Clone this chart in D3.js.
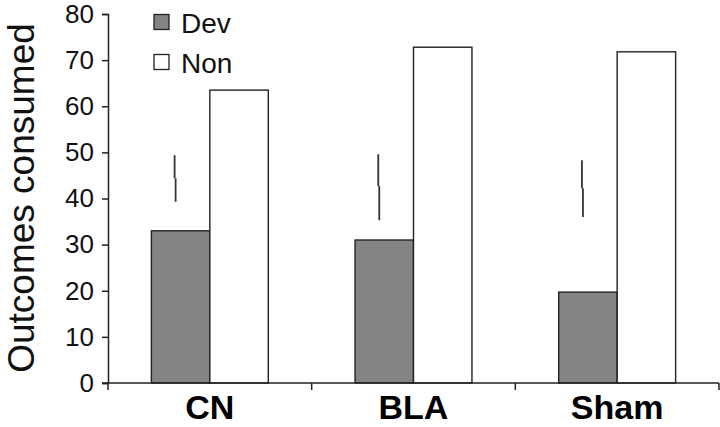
<!DOCTYPE html>
<html>
<head>
<meta charset="utf-8">
<script src="https://cdn.jsdelivr.net/npm/d3@7"></script>
<style>
  html, body { margin: 0; padding: 0; background: #fff; }
  svg { display: block; font-family: "Liberation Sans", Arial, Helvetica, sans-serif; }
</style>
</head>
<body>
<svg id="chart" width="720" height="427"></svg>
<script>
// ---- data ----
const categories = ["CN", "BLA", "Sham"];
const seriesNames = ["Dev", "Non"];
const devValues = [33.0, 31.0, 19.7];
const nonValues = [63.5, 72.8, 71.8];
const errLow  = [39.3, 35.3, 36.0];
const errMid  = [44.4, 42.7, 42.2];
const errHigh = [49.4, 49.6, 48.3];
const yTicks = [0, 10, 20, 30, 40, 50, 60, 70, 80];

(function () {
const svg = d3.select("#chart");
const mL = 108, mR = 719, mT = 14, mB = 383;
const axisColor = "#222";

const y = d3.scaleLinear().domain([0, 80]).range([mB, mT]);
const x = d3.scaleBand().domain(categories).range([mL, mR]);
const barW = x.bandwidth() * 0.287;

const rows = categories.map((c, i) => ({c, dev: devValues[i], non: nonValues[i],
  lo: errLow[i], mid: errMid[i], hi: errHigh[i]}));

// bars
const g = svg.append("g");
g.selectAll("rect.dev").data(rows).join("rect").attr("class", "dev")
  .attr("x", d => x(d.c) + x.bandwidth() / 2 - barW)
  .attr("y", d => y(d.dev))
  .attr("width", barW)
  .attr("height", d => y(0) - y(d.dev))
  .attr("fill", "#848484").attr("stroke", axisColor).attr("stroke-width", 1.4);
g.selectAll("rect.non").data(rows).join("rect").attr("class", "non")
  .attr("x", d => x(d.c) + x.bandwidth() / 2)
  .attr("y", d => y(d.non))
  .attr("width", barW)
  .attr("height", d => y(0) - y(d.non))
  .attr("fill", "#fff").attr("stroke", axisColor).attr("stroke-width", 1.4);

// error bars (drawn as in the reference, slightly left of the Dev bar centre)
const ex = d => x(d.c) + x.bandwidth() / 2 - barW / 2 - 6;
g.selectAll("line.eu").data(rows).join("line").attr("class", "eu")
  .attr("x1", ex).attr("x2", ex)
  .attr("y1", d => y(d.hi)).attr("y2", d => y(d.mid))
  .attr("stroke", "#333").attr("stroke-width", 1.8);
g.selectAll("line.el").data(rows).join("line").attr("class", "el")
  .attr("x1", d => ex(d) + 1).attr("x2", d => ex(d) + 1)
  .attr("y1", d => y(d.mid)).attr("y2", d => y(d.lo))
  .attr("stroke", "#333").attr("stroke-width", 1.8);

// y axis
const yAxis = svg.append("g").attr("transform", `translate(${mL},0)`)
  .call(d3.axisLeft(y).tickValues(yTicks).tickSize(6).tickPadding(8));
yAxis.select(".domain").attr("stroke", axisColor).attr("stroke-width", 1.5);
yAxis.selectAll(".tick line").attr("stroke", axisColor).attr("stroke-width", 1.5);
yAxis.selectAll(".tick text").attr("font-size", 26).attr("fill", "#111")
  .attr("font-family", "Liberation Sans, Arial, sans-serif");

// x axis
const xg = svg.append("g");
xg.append("line").attr("x1", mL - 6).attr("x2", mR).attr("y1", mB).attr("y2", mB)
  .attr("stroke", axisColor).attr("stroke-width", 1.5);
const bounds = categories.map(c => x(c)).concat([x.range()[1]]);
xg.selectAll("line.xt").data(bounds).join("line").attr("class", "xt")
  .attr("x1", d => d).attr("x2", d => d).attr("y1", mB).attr("y2", mB + 7)
  .attr("stroke", axisColor).attr("stroke-width", 1.5);
xg.selectAll("text.xl").data(categories).join("text").attr("class", "xl")
  .attr("x", d => x(d) + x.bandwidth() / 2)
  .attr("y", 419)
  .attr("text-anchor", "middle")
  .attr("font-size", 34).attr("font-weight", "bold").attr("fill", "#000")
  .text(d => d);

// y label
svg.append("text")
  .attr("transform", "translate(34,198) rotate(-90)")
  .attr("text-anchor", "middle")
  .attr("font-size", 37).attr("fill", "#111")
  .text("Outcomes consumed");

// legend
const legendFill = ["#848484", "#fff"];
const lg = svg.append("g");
seriesNames.forEach((s, i) => {
  const cy = 22 + i * 40;
  lg.append("rect").attr("x", 154).attr("y", cy - 7.5).attr("width", 15).attr("height", 15)
    .attr("fill", legendFill[i]).attr("stroke", axisColor).attr("stroke-width", 1.3);
  lg.append("text").attr("x", 181).attr("y", cy + 10.5)
    .attr("font-size", 28).attr("fill", "#111").text(s);
});
})();
</script>
</body>
</html>
